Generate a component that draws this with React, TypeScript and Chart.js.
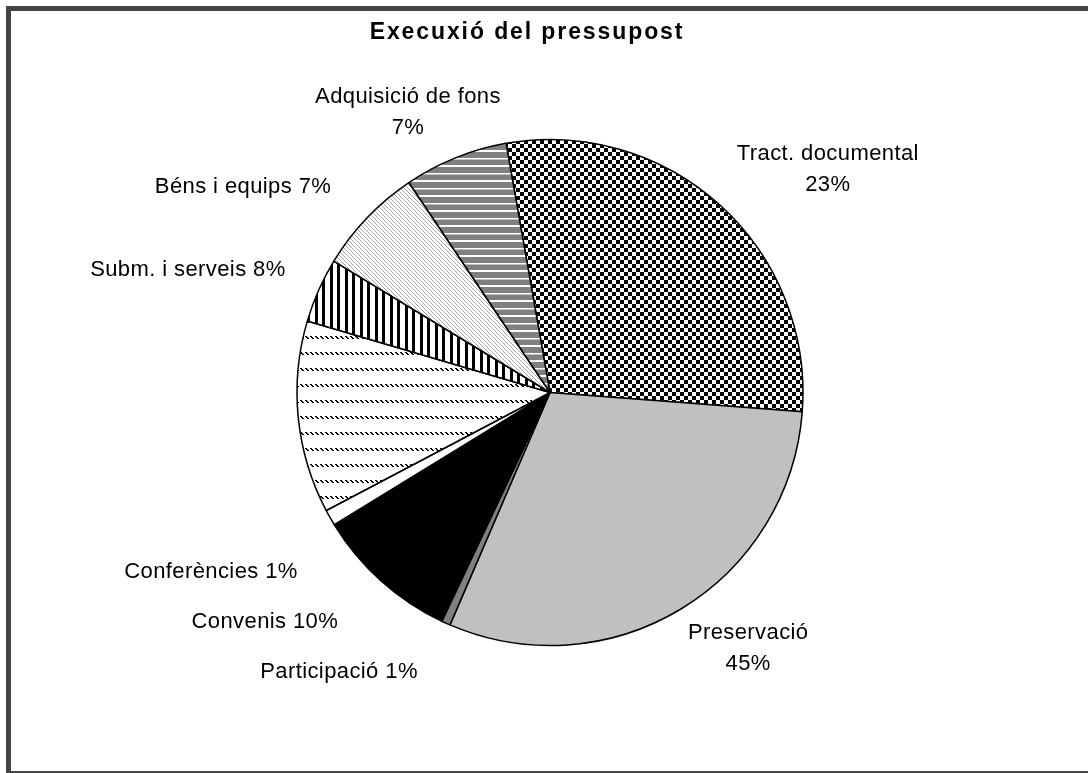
import { useEffect, useRef } from 'react';
import { Chart, registerables } from 'chart.js';

Chart.register(...registerables);

// ---- data ----
const TITLE = 'Execuxió del pressupost';
const CATEGORIES = [
  'Tract. documental',
  'Preservació',
  'Participació',
  'Convenis',
  'Conferències',
  '',
  'Subm. i serveis',
  'Béns i equips',
  'Adquisició de fons',
];
// share of the drawn circle (percent)
const SLICE_SHARES = [29.0, 30.25, 0.56, 9.22, 1.03, 12.28, 4.14, 6.89, 6.64];
// label texts as printed on the chart
const LABEL_LINES: string[][] = [
  ['Tract. documental', '23%'],
  ['Preservació', '45%'],
  ['Participació 1%'],
  ['Convenis 10%'],
  ['Conferències 1%'],
  [],
  ['Subm. i serveis 8%'],
  ['Béns i equips 7%'],
  ['Adquisició de fons', '7%'],
];

// ---- label placement (polar, relative to pie centre; degrees clockwise from top, radius units) ----
const LABEL_ANGLE = [51.3, 142.2, 217.05, 231.2, 242.1, 0, 288.7, 303.8, 333.1];
const LABEL_DIST = [1.407, 1.278, 1.384, 1.446, 1.516, 0, 1.511, 1.46, 1.241];

const FONT_FAMILY = '"Liberation Sans", Arial, Helvetica, sans-serif';

function makePattern(ctx: CanvasRenderingContext2D, w: number, h: number, draw: (g: CanvasRenderingContext2D) => void) {
  const c = document.createElement('canvas');
  c.width = w;
  c.height = h;
  const g = c.getContext('2d')!;
  draw(g);
  return ctx.createPattern(c, 'repeat')!;
}

function buildFills(ctx: CanvasRenderingContext2D) {
  const checker = makePattern(ctx, 8, 8, (g) => {
    g.fillStyle = '#fff';
    g.fillRect(0, 0, 8, 8);
    g.fillStyle = '#000';
    g.fillRect(0, 0, 4, 4);
    g.fillRect(4, 4, 4, 4);
  });
  const dashedDiag = makePattern(ctx, 5, 16, (g) => {
    g.fillStyle = '#fff';
    g.fillRect(0, 0, 5, 16);
    g.fillStyle = '#000';
    [[0, 0], [1, 0], [1, 1], [2, 1], [2, 2], [3, 2]].forEach(([x, y]) => g.fillRect(x, y, 1, 1));
  });
  const vertical = makePattern(ctx, 15, 1, (g) => {
    g.fillStyle = '#fff';
    g.fillRect(0, 0, 15, 1);
    g.fillStyle = '#000';
    g.fillRect(0, 0, 3, 1);
    g.fillRect(7, 0, 3, 1);
  });
  const lightDiag = makePattern(ctx, 4, 4, (g) => {
    g.fillStyle = '#fff';
    g.fillRect(0, 0, 4, 4);
    g.fillStyle = '#a8a8a8';
    for (let i = 0; i < 4; i++) g.fillRect(i, i, 1, 1);
  });
  const horizontal = makePattern(ctx, 1, 15, (g) => {
    g.fillStyle = '#808080';
    g.fillRect(0, 0, 1, 15);
    g.fillStyle = '#fff';
    g.fillRect(0, 0, 1, 2);
    g.fillRect(0, 8, 1, 1.5);
  });
  return [checker, '#c0c0c0', '#808080', '#000000', '#ffffff', dashedDiag, vertical, lightDiag, horizontal];
}

const titlePlugin = {
  id: 'customTitle',
  afterDraw(chart: any) {
    const ctx: CanvasRenderingContext2D = chart.ctx;
    ctx.save();
    ctx.font = `bold 23px ${FONT_FAMILY}`;
    (ctx as any).letterSpacing = '1.9px';
    ctx.fillStyle = '#000';
    ctx.textAlign = 'center';
    ctx.textBaseline = 'alphabetic';
    ctx.fillText(TITLE, 527, 38.5);
    ctx.restore();
  },
};

const labelPlugin = {
  id: 'outerLabels',
  afterDatasetsDraw(chart: any) {
    const meta = chart.getDatasetMeta(0);
    if (!meta.data.length) return;
    const { x, y, outerRadius } = meta.data[0].getProps(['x', 'y', 'outerRadius'], true);
    const ctx: CanvasRenderingContext2D = chart.ctx;
    ctx.save();
    ctx.font = `22px ${FONT_FAMILY}`;
    (ctx as any).letterSpacing = '0.4px';
    ctx.fillStyle = '#000';
    ctx.textAlign = 'center';
    ctx.textBaseline = 'middle';
    const lineH = 31;
    LABEL_LINES.forEach((lines, i) => {
      if (!lines.length) return;
      const a = (LABEL_ANGLE[i] * Math.PI) / 180;
      const px = x + Math.sin(a) * LABEL_DIST[i] * outerRadius;
      const py = y - Math.cos(a) * LABEL_DIST[i] * outerRadius;
      const y0 = py - ((lines.length - 1) * lineH) / 2;
      lines.forEach((t, k) => ctx.fillText(t, px, y0 + k * lineH));
    });
    ctx.restore();
  },
};

export default function App() {
  const ref = useRef<HTMLCanvasElement>(null);

  useEffect(() => {
    const canvas = ref.current!;
    const ctx = canvas.getContext('2d')!;
    const chart = new Chart(canvas, {
      type: 'pie',
      data: {
        labels: CATEGORIES,
        datasets: [
          {
            data: SLICE_SHARES,
            backgroundColor: buildFills(ctx) as any,
            borderColor: '#000',
            borderWidth: 1.5,
            hoverOffset: 0,
            offset: 0,
          } as any,
        ],
      },
      options: {
        responsive: false,
        animation: false,
        events: [],
        rotation: -10,
        radius: 253,
        layout: { padding: { left: 112, right: 100, top: 112, bottom: 100 } },
        plugins: {
          legend: { display: false },
          tooltip: { enabled: false },
          title: { display: false },
        },
      } as any,
      plugins: [labelPlugin, titlePlugin],
    });
    return () => chart.destroy();
  }, []);

  return (
    <div
      style={{
        position: 'fixed',
        left: 0,
        top: 0,
        width: 1088,
        height: 773,
        overflow: 'hidden',
        background: '#fff',
      }}
    >
      <canvas ref={ref} width={1088} height={773} style={{ position: 'absolute', left: 0, top: 0 }} />
      <div
        style={{
          position: 'absolute',
          left: 6,
          top: 6,
          width: 1100,
          height: 770,
          border: '5px solid #444',
          boxSizing: 'border-box',
          pointerEvents: 'none',
        }}
      />
    </div>
  );
}
